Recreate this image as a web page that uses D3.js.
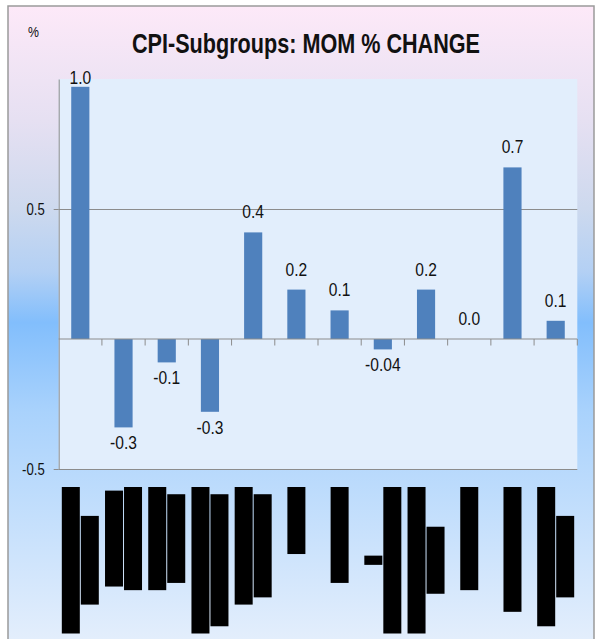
<!DOCTYPE html>
<html>
<head>
<meta charset="utf-8">
<script src="https://cdn.jsdelivr.net/npm/d3@7"></script>
<style>
    body { margin: 0; background: #fff; }
    text { font-family: "Liberation Sans", Arial, sans-serif; }
</style>
</head>
<body>
<svg id="chart" width="600" height="639"></svg>
<script>
"use strict";

// category labels, one array per category (lines as printed)
var categoryLines = [
    ["Food & non-alcoholic", "tea & coffee"],
    ["Alcohol & pan", "and intoxicant"],
    ["Clothing, caps", "and footwear"],
    ["Housing, water, gas,", "electricity & fuel"],
    ["Furnishings & hh", "equipment etc."],
    ["Transport"],
    ["Communication"],
    ["-", "Recreation & culture"],
    ["Education & personal", "care etc."],
    ["Health & misc."],
    ["Restaurant/hotels"],
    ["Miscellaneous goods", "& services."]
];
var values = [0.97, -0.34, -0.09, -0.28, 0.41, 0.19, 0.11, -0.04, 0.19, 0.0, 0.66, 0.07];
var yTicks = [-0.5, 0.5];
var titleText = "CPI-Subgroups: MOM % CHANGE";
var unitText = "%";

var locale = d3.formatLocale({ decimal: ".", thousands: ",", grouping: [3], currency: ["", ""], minus: "-" });
var narrow = 0.82; // the reference type is condensed

var svg = d3.select("#chart");
var defs = svg.append("defs");
var grad = defs.append("linearGradient").attr("id", "bg")
    .attr("gradientUnits", "userSpaceOnUse")
    .attr("x1", 0).attr("y1", 6).attr("x2", 0).attr("y2", 639);
[[0, "#fde9f8"], [0.18, "#e6e0f2"], [0.32, "#cdd9ee"], [0.42, "#b3d0f4"],
 [0.5, "#82befc"], [0.64, "#a9d2fc"], [1, "#e3eefc"]].forEach(function (s) {
    grad.append("stop").attr("offset", s[0]).attr("stop-color", s[1]);
});

// outer frame
svg.append("rect").attr("x", 8).attr("y", 6).attr("width", 586).attr("height", 650)
    .attr("fill", "url(#bg)").attr("stroke", "#9a9a9a").attr("stroke-width", 1.5);

var plot = { left: 58.7, right: 577.3, top: 79, bottom: 469 };

var keys = categoryLines.map(function (d) { return d.join(" "); });
var x = d3.scaleBand().domain(keys).range([plot.left, plot.right])
    .paddingInner(0.58).paddingOuter(0.29);
var y = d3.scaleLinear().domain([-0.5, 1.0]).range([plot.bottom, plot.top]);

// plot area
svg.append("rect").attr("x", plot.left).attr("y", plot.top)
    .attr("width", plot.right - plot.left).attr("height", plot.bottom - plot.top)
    .attr("fill", "#e2eefc");

// gridlines
svg.append("g").attr("class", "grid")
    .attr("transform", "translate(" + plot.left + ",0)")
    .call(d3.axisRight(y).tickValues(yTicks).tickSize(plot.right - plot.left).tickFormat(""))
    .call(function (g) {
        g.select(".domain").remove();
        g.selectAll("line").attr("stroke", "#8c8c8c");
    });

// y axis
svg.append("g").attr("class", "axis-y")
    .attr("transform", "translate(" + plot.left + ",0)")
    .call(d3.axisLeft(y).tickValues(yTicks).tickSize(5).tickSizeOuter(0)
        .tickFormat(locale.format(".1f")))
    .call(function (g) {
        g.select(".domain").attr("stroke", "#8c8c8c");
        g.selectAll("line").attr("stroke", "#8c8c8c");
        g.selectAll("text")
            .attr("x", 0).attr("dy", "0.35em")
            .attr("transform", "translate(-14,0) scale(" + narrow + ",1)")
            .style("font-size", "16px").style("fill", "#111")
            .style("font-family", "\"Liberation Sans\", Arial, sans-serif");
    });

// bars
svg.append("g").selectAll("rect").data(values).enter().append("rect")
    .attr("x", function (d, i) { return x(keys[i]); })
    .attr("width", x.bandwidth())
    .attr("y", function (d) { return y(Math.max(0, d)); })
    .attr("height", function (d) { return Math.abs(y(d) - y(0)); })
    .attr("fill", "#4f81bd");

// zero axis with category boundary ticks
var bounds = keys.map(function (k) { return x(k) - x.step() * x.paddingInner() / 2; });
bounds.push(plot.right);
var zero = svg.append("g").attr("class", "axis-x");
zero.append("line").attr("x1", plot.left).attr("x2", plot.right)
    .attr("y1", y(0)).attr("y2", y(0)).attr("stroke", "#8c8c8c");
zero.selectAll("line.tick").data(bounds.slice(1)).enter().append("line")
    .attr("class", "tick")
    .attr("x1", function (d) { return d; }).attr("x2", function (d) { return d; })
    .attr("y1", y(0)).attr("y2", y(0) + 6.5).attr("stroke", "#8c8c8c");

// data labels
function fmt(v) {
    if (v !== 0 && Math.abs(v) < 0.05) return locale.format(".2f")(v);
    return locale.format(".1f")(v);
}
svg.append("g").selectAll("text").data(values).enter().append("text")
    .attr("transform", function (d, i) {
        var lx = x(keys[i]) + x.bandwidth() / 2;
        var ly = d < 0 ? y(d) + 22 : Math.max(y(d) - 14, plot.top + 5);
        return "translate(" + lx + "," + ly + ") scale(" + narrow + ",1)";
    })
    .attr("text-anchor", "middle")
    .style("font-size", "19px").style("fill", "#111")
    .text(fmt);

// category labels (rotated, redacted)
var labelTop = plot.bottom + 18;
var lineStep = 19;
var catG = svg.append("g").attr("class", "cat-labels");
categoryLines.forEach(function (lines, i) {
    var cx = x(keys[i]) + x.bandwidth() / 2;
    var g = catG.append("g");
    var texts = lines.map(function (t) {
        return g.append("text").text(t)
            .style("font-family", "\"DejaVu Sans Mono\", monospace")
            .style("font-size", "12px").style("fill", "#000")
            .attr("text-anchor", "middle").attr("dominant-baseline", "central");
    });
    var lens = texts.map(function (t) { return t.node().getComputedTextLength() + 2; });
    var maxLen = d3.max(lens);
    var cy = labelTop + maxLen / 2;
    texts.forEach(function (t, j) {
        var lx = cx + (j - (lines.length - 1) / 2) * lineStep;
        g.insert("rect", "text")
            .attr("x", lx - 9).attr("y", cy - lens[j] / 2)
            .attr("width", 18).attr("height", lens[j]).attr("fill", "#000");
        t.attr("transform", "translate(" + lx + "," + cy + ") rotate(-90)");
    });
});

// title and unit
svg.append("text").attr("x", 132).attr("y", 53)
    .attr("textLength", 348).attr("lengthAdjust", "spacingAndGlyphs")
    .style("font-size", "28px").style("font-weight", "bold").style("fill", "#111")
    .text(titleText);
svg.append("text").attr("transform", "translate(28,37) scale(" + narrow + ",1)")
    .style("font-size", "15px").style("fill", "#111")
    .text(unitText);
</script>
</body>
</html>
